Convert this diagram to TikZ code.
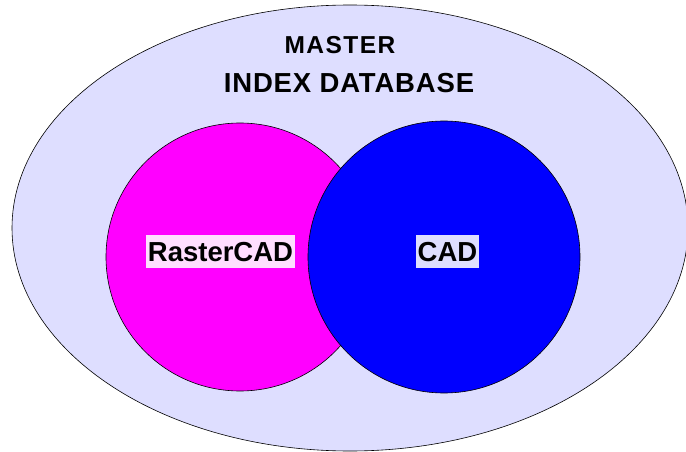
\documentclass[tikz,border=0pt]{standalone}
\usepackage{fontspec}
\setmainfont{Liberation Sans}
\usepackage{tikz}
\usetikzlibrary{positioning}
\definecolor{lavender}{RGB}{222,222,255}
\definecolor{pinkbox}{RGB}{255,222,255}
\definecolor{vmagenta}{RGB}{255,0,255}
\definecolor{vblue}{RGB}{0,0,255}
\tikzset{
  setlabel/.style={font=\bfseries\fontsize{27.5}{30}\selectfont, inner xsep=2pt, inner ysep=0pt,
    minimum height=33pt, text height=20pt, text depth=1pt},
  titlelabel/.style={font=\bfseries\fontsize{27.5}{30}\selectfont\addfontfeature{LetterSpace=3}, inner sep=0pt}
}
\begin{document}
\begin{tikzpicture}[line cap=round,line join=round, x=1pt,y=-1pt]
	\useasboundingbox (0,0) rectangle (686,452);
	% outer set
	\filldraw[fill=lavender, draw=black, line width=0.6pt] (350,228) ellipse (338 and 223);
	\node[titlelabel, font=\bfseries\fontsize{24.5}{28}\selectfont\addfontfeature{LetterSpace=6}] (master) at (340,45.5) {MASTER};
	\node[titlelabel, below=19pt of master, xshift=9pt] (index) {INDEX DATABASE};
	% inner sets
	\filldraw[fill=vmagenta, draw=black, line width=0.6pt] (240,257) circle (134);
	\filldraw[fill=vblue, draw=black, line width=0.6pt] (444,257) circle (136);
	\node[setlabel, fill=pinkbox] (raster) at (220.5,251.5) {RasterCAD};
	\node[setlabel, fill=lavender] (cad) at (447.5,251.5) {CAD};
\end{tikzpicture}
\end{document}
